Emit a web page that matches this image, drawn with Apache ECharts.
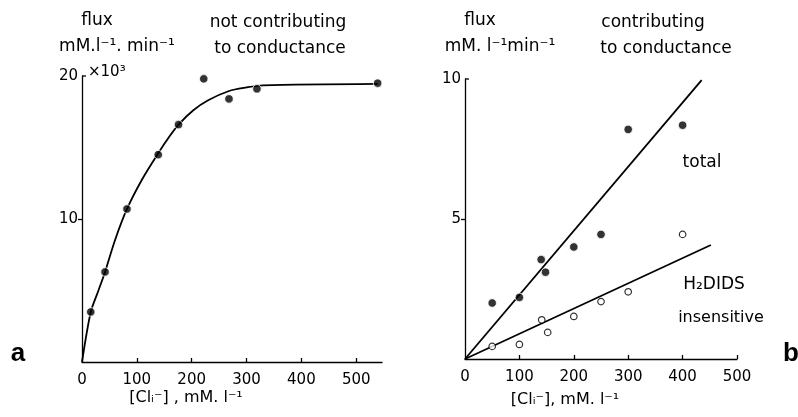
<!DOCTYPE html>
<html>
<head>
<meta charset="utf-8">
<script src="https://cdn.jsdelivr.net/npm/echarts@6/dist/echarts.min.js"></script>
<style>
  html, body { margin: 0; padding: 0; background: #fff; }
  #chart { width: 798px; height: 417px; }
</style>
</head>
<body>
<div id="chart"></div>
<script>
// Panel a: chloride flux not contributing to conductance (x10^3)
const clA = [16, 42, 82, 139, 176, 222, 268, 319, 539];
const fluxA = [3.5, 6.3, 10.7, 14.5, 16.6, 19.8, 18.4, 19.1, 19.5];
// saturating curve drawn through panel a
const curveAX = [0, 16, 30, 42, 60, 82, 110, 139, 160, 176, 203, 230, 268, 300, 330, 539];
const curveAY = [0, 3.5, 5.0, 6.3, 8.5, 10.7, 12.8, 14.6, 15.8, 16.6, 17.6, 18.3, 18.95, 19.2, 19.35, 19.45];

// Panel b: flux contributing to conductance
const clB = [50, 100, 140, 148, 200, 250, 300, 400];
const fluxTotal = [2.0, 2.2, 3.55, 3.1, 4.0, 4.45, 8.2, 8.35];
const clBOpen = [50, 100, 141, 152, 200, 250, 300, 400];
const fluxInsens = [0.45, 0.52, 1.4, 0.95, 1.52, 2.05, 2.4, 4.45];
// regression lines of panel b
const lineTotalX = [0, 435];
const lineTotalY = [0, 9.96];
const lineInsX = [0, 452];
const lineInsY = [0, 4.07];

const xTickLabels = [0, 100, 200, 300, 400, 500];
const xTickMarks = [100, 200, 300, 400, 500];
const yTicksA = [10, 20];
const yTicksB = [5, 10];

const pairs = (xs, ys) => xs.map((x, i) => [x, ys[i]]);

const FONT = 'DejaVu Sans';
const INK = '#000';

const chart = echarts.init(document.getElementById('chart'), null, { renderer: 'canvas' });

function xAxisCfg(gridIndex, max) {
  return {
    type: 'value', gridIndex, min: 0, max, interval: 100,
    axisLine: { show: true, lineStyle: { color: INK, width: 1.3 } },
    axisTick: { show: true, inside: true, length: 4, customValues: xTickMarks, lineStyle: { color: INK, width: 1.3 } },
    axisLabel: { show: true, customValues: xTickLabels, margin: 11, color: INK, fontFamily: FONT, fontSize: 15 },
    splitLine: { show: false }
  };
}
function yAxisCfg(gridIndex, max, labels, tickVals) {
  return {
    type: 'value', gridIndex, min: 0, max, interval: max / 2,
    axisLine: { show: true, lineStyle: { color: INK, width: 1.3 } },
    axisTick: { show: true, inside: false, length: 4, customValues: tickVals, lineStyle: { color: INK, width: 1.3 } },
    axisLabel: { show: true, customValues: labels, margin: 4, color: INK, fontFamily: FONT, fontSize: 15 },
    splitLine: { show: false }
  };
}

const txt = (x, y, text, size, extra) => Object.assign({
  type: 'text', x, y,
  style: Object.assign({ text, fill: INK, font: `${size}px "${FONT}"`, align: 'center', verticalAlign: 'middle' }, extra || {})
});

const filledDot = { color: INK, borderColor: '#fff', borderWidth: 1 };

chart.setOption({
  animation: false,
  backgroundColor: '#fff',
  grid: [
    { left: 82, top: 76, width: 300, height: 286 },
    { left: 465, top: 79, width: 272, height: 280 }
  ],
  xAxis: [xAxisCfg(0, 547), xAxisCfg(1, 500)],
  yAxis: [yAxisCfg(0, 20, yTicksA, [10]), yAxisCfg(1, 10, yTicksB, [5])],
  series: [
    {
      type: 'line', xAxisIndex: 0, yAxisIndex: 0, data: pairs(curveAX, curveAY),
      showSymbol: false, smooth: 0.3,
      lineStyle: { color: INK, width: 1.8 }, z: 2
    },
    {
      type: 'scatter', xAxisIndex: 0, yAxisIndex: 0, data: pairs(clA, fluxA),
      symbol: 'circle', symbolSize: 8.5, itemStyle: filledDot, z: 3
    },
    {
      type: 'line', xAxisIndex: 1, yAxisIndex: 1, data: pairs(lineTotalX, lineTotalY),
      showSymbol: false, lineStyle: { color: INK, width: 1.8 }, z: 2
    },
    {
      type: 'line', xAxisIndex: 1, yAxisIndex: 1, data: pairs(lineInsX, lineInsY),
      showSymbol: false, lineStyle: { color: INK, width: 1.8 }, z: 2
    },
    {
      type: 'scatter', xAxisIndex: 1, yAxisIndex: 1, data: pairs(clB, fluxTotal),
      symbol: 'circle', symbolSize: 8.5, itemStyle: filledDot, z: 3
    },
    {
      type: 'scatter', xAxisIndex: 1, yAxisIndex: 1, data: pairs(clBOpen, fluxInsens),
      symbol: 'circle', symbolSize: 6.5,
      itemStyle: { color: '#fff', borderColor: INK, borderWidth: 1.2 }, z: 3
    }
  ]
});

// small hooks at the top of each vertical axis
const topA = chart.convertToPixel({ xAxisIndex: 0, yAxisIndex: 0 }, [0, 20]);
const topB = chart.convertToPixel({ xAxisIndex: 1, yAxisIndex: 1 }, [0, 10]);
const hook = (p) => ({ type: 'line', shape: { x1: p[0], y1: p[1], x2: p[0] + 4, y2: p[1] }, style: { stroke: INK, lineWidth: 1.3 } });

chart.setOption({
  graphic: [
    hook(topA), hook(topB),
    // panel a headings
    txt(97, 21, 'flux', 17),
    txt(117, 47, 'mM.l⁻¹. min⁻¹', 17),
    txt(278, 23, 'not contributing', 17),
    txt(280, 49, 'to conductance', 17),
    txt(88, 72, '×10³', 15, { align: 'left' }),
    txt(186, 398, '[Clᵢ⁻] , mM. l⁻¹', 16),
    txt(18, 354, 'a', 26, { font: 'bold 26px "Liberation Sans"' }),
    // panel b headings
    txt(480, 21, 'flux', 17),
    txt(500, 47, 'mM. l⁻¹min⁻¹', 17),
    txt(653, 23, 'contributing', 17),
    txt(666, 49, 'to conductance', 17),
    txt(565, 400, '[Clᵢ⁻], mM. l⁻¹', 16),
    txt(702, 163, 'total', 17),
    txt(714, 285, 'H₂DIDS', 17),
    txt(721, 318, 'insensitive', 16),
    txt(791, 354, 'b', 26, { font: 'bold 26px "Liberation Sans"' })
  ]
});
</script>
</body>
</html>
